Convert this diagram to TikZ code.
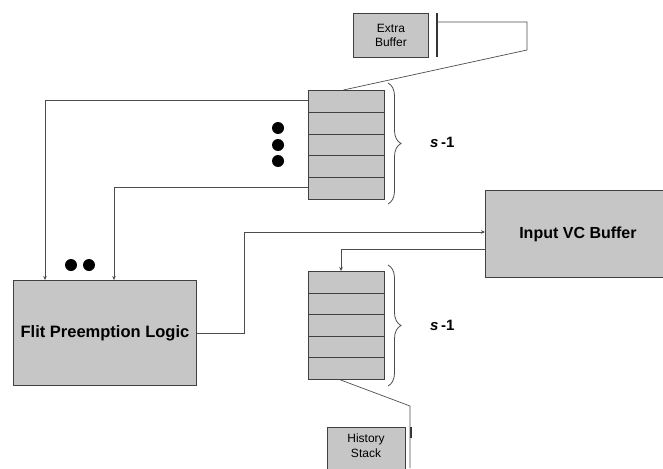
\documentclass[tikz,border=0pt]{standalone}
\usepackage{fontspec}
\setmainfont{Liberation Sans}
\usetikzlibrary{arrows.meta,decorations.pathreplacing}
\begin{document}
\begin{tikzpicture}[x=1pt,y=-1pt,
  box/.style={draw=black!75, fill=gray!45, line width=0.9pt, inner sep=0pt},
  cell/.style={box, minimum width=76pt, anchor=north west},
  wire/.style={draw=black!70, line width=0.7pt},
  arr/.style={wire, -{Stealth[length=4pt,width=3.5pt]}},
  bar/.style={draw=black!80, line width=1.4pt},
  dotmark/.style={circle, fill=black, inner sep=0pt, minimum size=12pt},
  brc/.style={draw=black!70, line width=0.8pt, decorate, decoration={brace, amplitude=13pt, aspect=0.5}},
  slabel/.style={font=\fontsize{15}{17}\selectfont\bfseries, anchor=west, inner sep=0pt},
  small/.style={align=center, font=\fontsize{12}{14.5}\selectfont}
]
\useasboundingbox (0,0) rectangle (663,468);
% Extra buffer
\node[box, small, minimum width=75pt, minimum height=44pt, anchor=north west] (extra) at (353,13) {Extra\\Buffer};
\coordinate (ebt) at (437,13);
\coordinate (ebb) at (437,57);
\draw[bar] (ebt) -- (ebb);
% upper stack
\foreach \i/\y in {1/90,2/111.8,3/133.6,4/155.4,5/177.2}{
  \node[cell, minimum height=21.8pt] (u\i) at (308,\y) {};
}
% lower stack
\foreach \i/\y in {1/271,2/292.6,3/314.2,4/335.8,5/357.4}{
  \node[cell, minimum height=21.6pt] (l\i) at (308,\y) {};
}
% Flit preemption logic
\node[box, minimum width=183pt, minimum height=105pt, anchor=north west,
      font=\fontsize{16.5}{18}\selectfont\bfseries] (fpl) at (13,280) {Flit Preemption Logic};
% Input VC buffer
\node[box, minimum width=185pt, minimum height=87pt, anchor=north west,
      font=\fontsize{16}{18}\selectfont\bfseries] (vc) at (485,190) {Input VC Buffer};
% History stack
\node[box, minimum width=78pt, minimum height=46pt, anchor=north west] (hist) at (327,427) {};
\node[small, inner sep=0pt] (histtext) at (366,445.5) {History\\Stack};
\coordinate (hbt) at (411,427);
\coordinate (hbb) at (411,438);
\draw[bar] (hbt) -- (hbb);
% dots
\node[dotmark] (d1) at (278,128) {};
\node[dotmark] (d2) at (278,145) {};
\node[dotmark] (d3) at (278,161) {};
\node[dotmark] (d4) at (71,265) {};
\node[dotmark] (d5) at (89,265) {};
% braces
\coordinate (ub1) at (388,83);
\coordinate (ub2) at (388,204);
\draw[brc] (ub1) -- (ub2);
\coordinate (lb1) at (388,265);
\coordinate (lb2) at (388,386);
\draw[brc] (lb1) -- (lb2);
\node[slabel] (us) at (430,142) {\textit{s}\,-1};
\node[slabel] (ls) at (430,325) {\textit{s}\,-1};
% connectors
\coordinate (er1) at (527,22);
\coordinate (er2) at (527,50);
\draw[wire] (ebt |- er1) -- (er1) -- (er2) -- ([xshift=-3pt]u1.north);
\draw[arr] ([yshift=1pt]u1.west) -| ([xshift=32pt]fpl.north west);
\draw[arr] ([yshift=1pt]u5.west) -| ([xshift=101pt]fpl.north west);
\coordinate (fturn) at (244,232);
\draw[arr] (fpl.east) -| (fturn) -- (fturn -| vc.west);
\coordinate (vturn) at (341,249);
\draw[arr] (vturn -| vc.west) -- (vturn) -- (vturn |- l1.north);
\coordinate (hd) at (410,406);
\coordinate (hend) at (410,468);
\draw[wire] ([xshift=-6pt]l5.south) -- (hd) -- (hend);
\end{tikzpicture}
\end{document}
